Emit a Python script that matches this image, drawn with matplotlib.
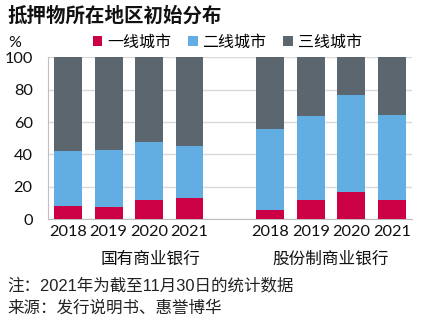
import numpy as np
import matplotlib.pyplot as plt
from matplotlib.patches import Patch

plt.rcParams['font.family'] = ['Lato', 'Noto Sans CJK SC', 'DejaVu Sans']

# 数据（从图中读取，单位 %）
anos = ['2018', '2019', '2020', '2021']
grupos = ['国有商业银行', '股份制商业银行']
tier1 = [8.0, 7.2, 12.0, 13.2, 5.8, 12.0, 16.9, 11.6]
tier2 = [34.0, 35.4, 35.6, 32.2, 49.8, 51.5, 59.8, 52.7]
tier3 = [58.0, 57.4, 52.4, 54.6, 44.4, 36.5, 23.3, 35.7]
series_labels = ['一线城市', '二线城市', '三线城市']

cores = ['#CC0044', '#62AEE2', '#5C666E']

fig = plt.figure(figsize=(4.3, 3.28), dpi=100)
ax = fig.add_axes([0.1116, 0.332, 0.8465, 0.493])

x = np.array([0, 1, 2, 3, 5, 6, 7, 8])
w = 0.69
t1 = np.array(tier1)
t2 = np.array(tier2)
t3 = np.array(tier3)
ax.bar(x, t1, w, color=cores[0], zorder=3)
ax.bar(x, t2, w, bottom=t1, color=cores[1], zorder=3)
ax.bar(x, t3, w, bottom=t1 + t2, color=cores[2], zorder=3)

ax.set_xlim(-0.5, 8.5)
ax.set_ylim(0, 100)
ax.set_yticks(range(0, 101, 20))
ax.grid(axis='y', color='#D9D9D9', linewidth=1, zorder=0)
ax.tick_params(axis='both', length=0, labelsize=11.8, colors='#111111')
ax.tick_params(axis='y', pad=11)
ax.tick_params(axis='x', pad=4)
ax.set_xticks(x)
ax.set_xticklabels(anos + anos)
for s in ['top', 'right']:
    ax.spines[s].set_visible(False)
ax.spines['left'].set_color('#BFBFBF')
ax.spines['bottom'].set_color('#BFBFBF')

# rótulos dos grupos
ax.text(2.02, -0.245, grupos[0], transform=ax.get_xaxis_transform(),
        ha='center', va='center', fontsize=12, color='#111111')
ax.text(6.5, -0.245, grupos[1], transform=ax.get_xaxis_transform(),
        ha='center', va='center', fontsize=12, color='#111111')

# legenda
handles = [Patch(facecolor=c, label=l) for c, l in zip(cores, series_labels)]
fig.legend(handles=handles, loc='center left', bbox_to_anchor=(0.216, 0.87),
           ncol=3, frameon=False, fontsize=11.5, handlelength=0.6,
           handleheight=0.6, handletextpad=0.3, columnspacing=1.05,
           borderaxespad=0, borderpad=0)

fig.text(0.035, 0.87, '%', fontsize=11.5, ha='center', va='center', color='#111111')
fig.text(0.018, 0.955, '抵押物所在地区初始分布', fontsize=14, fontweight='bold',
         ha='left', va='center', color='#111111')
fig.text(0.018, 0.131, '注：2021年为截至11月30日的统计数据', fontsize=11.9,
         ha='left', va='center', color='#222222',
         family=['Liberation Sans', 'Noto Sans CJK SC'])
fig.text(0.018, 0.061, '来源：发行说明书、惠誉博华', fontsize=11.9,
         ha='left', va='center', color='#222222',
         family=['Liberation Sans', 'Noto Sans CJK SC'])

fig.savefig('out.png', dpi=100)
